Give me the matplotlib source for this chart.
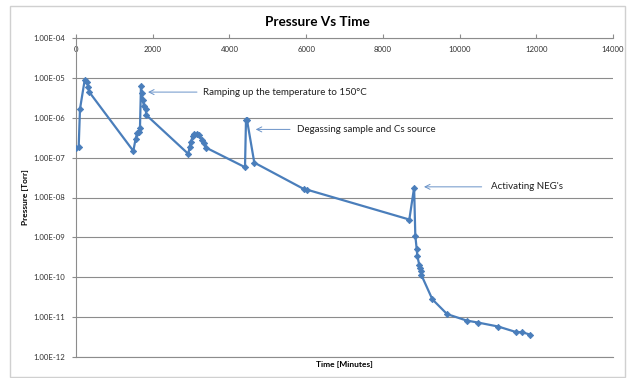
import numpy as np
import matplotlib
matplotlib.use('Agg')
import matplotlib.pyplot as plt
from matplotlib.patches import Rectangle
from matplotlib.ticker import FixedLocator, FuncFormatter

plt.rcParams['font.family'] = ['Lato', 'DejaVu Sans']

# time [minutes] and pressure [Torr]
tiempo = [0, 70, 104, 227, 295, 320, 347,
          1494, 1556, 1598, 1635, 1668, 1694, 1713, 1739, 1773, 1817, 1833,
          2928, 2964, 2998, 3042, 3084, 3147, 3206, 3285, 3337, 3389,
          4406, 4432, 4458, 4648, 5944, 6014,
          8690, 8815, 8846, 8882, 8898, 8950, 8968, 8986, 9002,
          9290, 9675, 10185, 10484, 11010, 11480, 11619, 11835]
presion = [1.78e-7, 1.85e-7, 1.66e-6, 8.9e-6, 7.9e-6, 5.9e-6, 4.4e-6,
           1.47e-7, 3.0e-7, 4.2e-7, 4.4e-7, 5.6e-7, 6.3e-6, 4.2e-6, 2.8e-6, 2.0e-6, 1.63e-6, 1.17e-6,
           1.24e-7, 1.89e-7, 2.5e-7, 3.4e-7, 3.9e-7, 3.9e-7, 3.7e-7, 2.8e-7, 2.3e-7, 1.78e-7,
           5.75e-8, 8.8e-7, 8.8e-7, 7.5e-8, 1.62e-8, 1.58e-8,
           2.8e-9, 1.78e-8, 1.11e-9, 5.1e-10, 3.4e-10, 2.04e-10, 1.7e-10, 1.45e-10, 1.15e-10,
           2.8e-11, 1.19e-11, 8.2e-12, 7.3e-12, 5.8e-12, 4.2e-12, 4.2e-12, 3.66e-12]

notas = ["Ramping up the temperature to 150°C",
         "Degassing sample and Cs source",
         "Activating NEG's"]
nota_punta = [(1877, 4.4e-6), (4685, 5.1e-7), (9072, 1.85e-8)]
nota_cola = [(3154, 4.4e-6), (5579, 5.1e-7), (10576, 1.85e-8)]
nota_texto = [3311, 5761, 10811]

yticks = [10.0**k for k in range(-12, -3)]
xticks = list(range(0, 14001, 2000))

azul = '#4A7EBB'
gris = '#8C8C8C'

fig = plt.figure(figsize=(6.28, 3.78), dpi=100)
fig.patches.append(Rectangle((10/628, 1 - 377/378), 615/628, 371/378,
                             transform=fig.transFigure, fill=False,
                             edgecolor='#D0D0D0', linewidth=1.0))
ax = fig.add_axes([76/628, 1 - 357/378, 537/628, 319/378])

ax.plot(tiempo, presion, color=azul, lw=1.6, marker='D', ms=3.2,
        markeredgewidth=0.6, markeredgecolor=azul, markerfacecolor=azul, zorder=3)

ax.set_yscale('log')
ax.set_ylim(1e-12, 1e-4)
ax.set_xlim(0, 14000)
ax.yaxis.set_major_locator(FixedLocator(yticks))
ax.yaxis.set_minor_locator(FixedLocator([]))
ax.yaxis.set_major_formatter(FuncFormatter(lambda v, p: '1.00E%03d' % int(round(np.log10(v)))))
ax.set_xticks(xticks)
ax.set_xticklabels([str(t) for t in xticks])

ax.spines['right'].set_visible(False)
for s in ['left', 'top', 'bottom']:
    ax.spines[s].set_color(gris)
    ax.spines[s].set_linewidth(0.8)

ax.grid(axis='y', color=gris, lw=0.8)
ax.set_axisbelow(True)

ax.xaxis.tick_top()
ax.tick_params(axis='x', which='major', direction='out', length=3, color=gris,
               labelsize=5.6, labelcolor='#303030', pad=-13.5)
ax.tick_params(axis='y', which='major', direction='out', length=3, color=gris,
               labelsize=5.6, labelcolor='#303030', pad=5)

ax.set_xlabel('Time [Minutes]', fontsize=6, fontweight='bold', labelpad=3)
ax.xaxis.set_label_position('bottom')
ax.set_ylabel('Pressure [Torr]', fontsize=6, fontweight='bold')
ax.yaxis.set_label_coords(-0.0875, 0.5)

for txt, punta, cola, xt in zip(notas, nota_punta, nota_cola, nota_texto):
    ax.annotate('', xy=punta, xytext=cola,
                arrowprops=dict(arrowstyle='->', color='#6A93C8', lw=0.7,
                                mutation_scale=9, shrinkA=0, shrinkB=0))
    ax.text(xt, punta[1], txt, fontsize=7, color='#202020', va='center', ha='left')

fig.text(317.5/628, 1 - 22/378, 'Pressure Vs Time', fontsize=9.8, fontweight='bold',
         ha='center', va='center')

fig.savefig('out.png', dpi=100)
